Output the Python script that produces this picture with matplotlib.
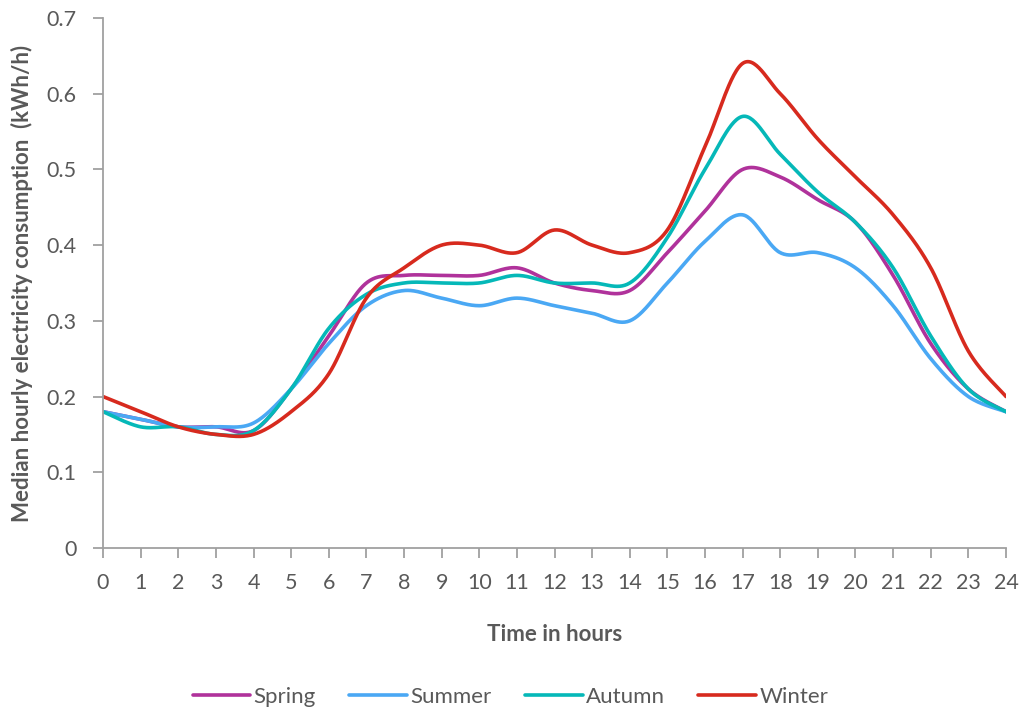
import numpy as np
import matplotlib.pyplot as plt

# hourly medians (kWh/h)
hours = list(range(25))
spring = [0.18, 0.17, 0.16, 0.16, 0.155, 0.21, 0.28, 0.35, 0.36, 0.36, 0.36, 0.37, 0.35,
          0.34, 0.34, 0.39, 0.445, 0.50, 0.49, 0.46, 0.43, 0.36, 0.27, 0.21, 0.18]
summer = [0.18, 0.17, 0.16, 0.16, 0.165, 0.21, 0.27, 0.32, 0.34, 0.33, 0.32, 0.33, 0.32,
          0.31, 0.30, 0.35, 0.405, 0.44, 0.39, 0.39, 0.37, 0.32, 0.25, 0.20, 0.18]
autumn = [0.18, 0.16, 0.16, 0.15, 0.155, 0.21, 0.29, 0.335, 0.35, 0.35, 0.35, 0.36, 0.35,
          0.35, 0.35, 0.41, 0.50, 0.57, 0.52, 0.47, 0.43, 0.37, 0.28, 0.21, 0.18]
winter = [0.20, 0.18, 0.16, 0.15, 0.15, 0.18, 0.23, 0.33, 0.37, 0.40, 0.40, 0.39, 0.42,
          0.40, 0.39, 0.42, 0.53, 0.64, 0.60, 0.54, 0.49, 0.44, 0.37, 0.26, 0.20]

series = [("Spring", spring, "#B0329B"), ("Summer", summer, "#4AA8F4"),
          ("Autumn", autumn, "#05B8B8"), ("Winter", winter, "#D72A1E")]


def smooth(x, y, n=30):
    """Catmull-Rom style smoothing like Excel's smoothed line."""
    x = np.asarray(x, float)
    y = np.asarray(y, float)
    px = np.concatenate([[x[0]], x, [x[-1]]])
    py = np.concatenate([[y[0]], y, [y[-1]]])
    t = np.linspace(0, 1, n, endpoint=False)
    xs, ys = [], []
    for i in range(1, len(px) - 2):
        p0, p1, p2, p3 = py[i - 1], py[i], py[i + 1], py[i + 2]
        q0, q1, q2, q3 = px[i - 1], px[i], px[i + 1], px[i + 2]
        # bezier control points
        c1y, c2y = p1 + (p2 - p0) / 6, p2 - (p3 - p1) / 6
        c1x, c2x = q1 + (q2 - q0) / 6, q2 - (q3 - q1) / 6
        b0 = (1 - t) ** 3
        b1 = 3 * (1 - t) ** 2 * t
        b2 = 3 * (1 - t) * t ** 2
        b3 = t ** 3
        xs.append(b0 * q1 + b1 * c1x + b2 * c2x + b3 * q2)
        ys.append(b0 * p1 + b1 * c1y + b2 * c2y + b3 * p2)
    xs.append([x[-1]])
    ys.append([y[-1]])
    return np.concatenate(xs), np.concatenate(ys)


plt.rcParams['font.family'] = ['Lato', 'DejaVu Sans']
grey = "#595959"
axis_grey = "#A0A0A0"

fig = plt.figure(figsize=(10.21, 7.11), dpi=100)
ax = fig.add_axes([0.1009, 0.2293, 0.8844, 0.7454])

for name, vals, col in series:
    sx, sy = smooth(hours, vals)
    ax.plot(sx, sy, color=col, linewidth=2.6, label=name, solid_capstyle='round')

ax.set_xlim(0, 24)
ax.set_ylim(0, 0.7)
ax.set_xticks(hours)
ax.set_xticklabels([str(h) for h in hours])
ax.set_yticks(np.arange(0, 0.71, 0.1))
ax.set_yticklabels(["0", "0.1", "0.2", "0.3", "0.4", "0.5", "0.6", "0.7"])

for s in ["top", "right"]:
    ax.spines[s].set_visible(False)
for s in ["left", "bottom"]:
    ax.spines[s].set_color(axis_grey)
    ax.spines[s].set_linewidth(1.3)
ax.tick_params(axis="both", colors=axis_grey, length=7, width=1.3, labelsize=15.5,
               labelcolor=grey)
ax.tick_params(axis="x", pad=11)
ax.tick_params(axis="y", pad=12)

ax.set_xlabel("Time in hours", fontsize=16, fontweight="bold", color=grey, labelpad=22)
ax.set_ylabel("Median hourly electricity consumption  (kWh/h)", fontsize=16,
              fontweight="bold", color=grey, labelpad=10)

leg = fig.legend(*ax.get_legend_handles_labels(), loc="center", bbox_to_anchor=(0.5, 0.02),
                 ncol=4, frameon=False, fontsize=16, handlelength=2.6, handletextpad=0.15,
                 columnspacing=1.5)
for t in leg.get_texts():
    t.set_color(grey)

fig.savefig("out.png", dpi=100)
